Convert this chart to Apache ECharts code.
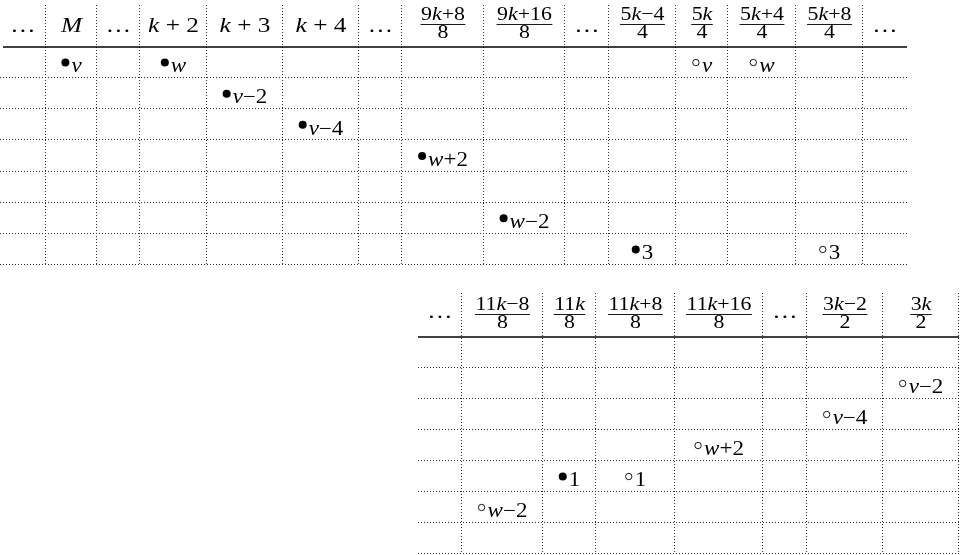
<!DOCTYPE html>
<html>
<head>
<meta charset="utf-8">
<script src="https://cdn.jsdelivr.net/npm/echarts@6/dist/echarts.min.js"></script>
<style>
html, body { margin: 0; padding: 0; background: #fff; }
#chart { width: 970px; height: 555px; }
</style>
</head>
<body>
<div id="chart"></div>
<script>
// column headers, fractions written as "numerator/denominator"
const topHeaders = ['…', 'M', '…', 'k+2', 'k+3', 'k+4', '…', '9k+8/8', '9k+16/8', '…', '5k−4/4', '5k/4', '5k+4/4', '5k+8/4', '…']
const bottomHeaders = ['…', '11k−8/8', '11k/8', '11k+8/8', '11k+16/8', '…', '3k−2/2', '3k/2']
const rowCount = 7

// marks: [column, row, filled, label]
const topMarks = [
  [1, 0, true, 'v'], [3, 0, true, 'w'], [11, 0, false, 'v'], [12, 0, false, 'w'],
  [4, 1, true, 'v−2'],
  [5, 2, true, 'v−4'],
  [7, 3, true, 'w+2'],
  [8, 5, true, 'w−2'],
  [10, 6, true, '3'], [13, 6, false, '3']
]
const bottomMarks = [
  [7, 1, false, 'v−2'],
  [6, 2, false, 'v−4'],
  [4, 3, false, 'w+2'],
  [2, 4, true, '1'], [3, 4, false, '1'],
  [1, 5, false, 'w−2']
]

// layout
const topColWidths = [46, 51, 43, 67, 76, 76, 43, 82, 81, 44, 67, 52, 68, 67, 44]
const bottomColWidths = [44, 81, 53, 79, 88, 44, 76, 76]
const FF = '"Liberation Serif", "Times New Roman", serif'
const SX = 1.15 // text is a bit wider than plain Times
const headSize = 22
const fracSize = 19
const labelSize = 20
const dotted = { stroke: '#333', lineWidth: 1, lineDash: [1, 2] }

const measureCtx = document.createElement('canvas').getContext('2d')
function textWidth (s, size, italic) {
  measureCtx.font = (italic ? 'italic ' : '') + size + 'px ' + FF
  return measureCtx.measureText(s).width
}
function richWidth (s, size) {
  let w = 0
  s.replace(/[A-Za-z]+|[^A-Za-z]+/g, m => {
    w += textWidth(m, size, /[A-Za-z]/.test(m))
    return m
  })
  return w
}
// letters in math italic, the rest upright
function toRich (s) {
  return s.replace(/[A-Za-z]+/g, m => '{i|' + m + '}')
}
function richStyle (size) {
  return { i: { fontStyle: 'italic', fontSize: size, fontFamily: FF, fill: '#000' } }
}
function text (str, x, y, size, align) {
  return {
    type: 'text',
    x: x,
    y: y,
    scaleX: SX,
    style: {
      text: toRich(str),
      rich: richStyle(size),
      fontSize: size,
      fontFamily: FF,
      fill: '#000',
      align: align || 'center',
      verticalAlign: 'middle'
    }
  }
}
function colCenters (widths) {
  let acc = 0
  return widths.map(w => {
    const c = acc + w / 2
    acc += w
    return c
  })
}
function sum (arr) {
  return arr.reduce((a, b) => a + b, 0)
}

// grid lines + header row
function frameSeries (idx, headers, widths, o) {
  const centers = colCenters(widths)
  const total = sum(widths)
  return {
    type: 'custom',
    xAxisIndex: idx,
    yAxisIndex: idx,
    silent: true,
    data: [[0, 0]],
    renderItem: function (params, api) {
      const children = []
      const tl = api.coord([0, 0])
      const br = api.coord([total, rowCount])
      const ruleY = tl[1]
      // dotted rows
      for (let r = 1; r <= rowCount; r++) {
        const y = Math.round(api.coord([0, r])[1]) - 0.5
        children.push({ type: 'line', shape: { x1: tl[0], y1: y, x2: br[0], y2: y }, style: dotted })
      }
      // dotted columns
      let acc = 0
      widths.forEach((w, c) => {
        acc += w
        if (c === widths.length - 1 && !o.rightEdge) return
        const x = Math.round(api.coord([acc, 0])[0]) - 0.5
        children.push({ type: 'line', shape: { x1: x, y1: ruleY - o.headH, x2: x, y2: br[1] }, style: dotted })
      })
      // header rule
      children.push({
        type: 'line',
        shape: { x1: tl[0] + o.ruleInset, y1: ruleY, x2: br[0], y2: ruleY },
        style: { stroke: '#000', lineWidth: 1.3 }
      })
      // headers
      headers.forEach((h, c) => {
        const cx = api.coord([centers[c], 0])[0]
        if (h.indexOf('/') >= 0) {
          const parts = h.split('/')
          const barY = ruleY - o.barOff
          const bw = richWidth(parts[0], fracSize) * SX + 1
          children.push(text(parts[0], cx, barY - 9, fracSize))
          children.push({
            type: 'line',
            shape: { x1: cx - bw / 2, y1: barY + 0.5, x2: cx + bw / 2, y2: barY + 0.5 },
            style: { stroke: '#000', lineWidth: 0.9 }
          })
          children.push(text(parts[1], cx, barY + 9.5, fracSize))
        } else {
          const s = h.replace(/([+−])/g, ' $1 ')
          children.push(text(s, cx, ruleY - o.plainOff, headSize))
        }
      })
      return { type: 'group', children: children }
    }
  }
}

// dots / circles with their subscript labels
function markSeries (idx, marks, widths) {
  const centers = colCenters(widths)
  return {
    type: 'custom',
    xAxisIndex: idx,
    yAxisIndex: idx,
    silent: true,
    data: marks.map(m => [centers[m[0]], m[1] + 0.5]),
    renderItem: function (params, api) {
      const m = marks[params.dataIndex]
      const p = api.coord([api.value(0), api.value(1)])
      const lw = richWidth(m[3], labelSize) * SX
      const dotX = p[0] - (10 + lw) / 2 + 4
      const dotY = p[1]
      return {
        type: 'group',
        children: [
          {
            type: 'circle',
            shape: { cx: dotX, cy: dotY, r: m[2] ? 4 : 3.2 },
            style: m[2] ? { fill: '#000' } : { fill: 'none', stroke: '#000', lineWidth: 0.9 }
          },
          text(m[3], dotX + 6, dotY + 4.5, labelSize, 'left')
        ]
      }
    }
  }
}

function hiddenAxis (idx, max, inverse) {
  return {
    type: 'value',
    gridIndex: idx,
    min: 0,
    max: max,
    inverse: !!inverse,
    show: false,
    splitLine: { show: false }
  }
}

const chart = echarts.init(document.getElementById('chart'), null, { renderer: 'canvas' })
chart.setOption({
  animation: false,
  backgroundColor: '#fff',
  grid: [
    { left: 0, top: 47, width: sum(topColWidths), height: 218 },
    { left: 418, top: 337, width: sum(bottomColWidths), height: 217 }
  ],
  xAxis: [hiddenAxis(0, sum(topColWidths)), hiddenAxis(1, sum(bottomColWidths))],
  yAxis: [hiddenAxis(0, rowCount, true), hiddenAxis(1, rowCount, true)],
  series: [
    frameSeries(0, topHeaders, topColWidths, { headH: 42, barOff: 23, plainOff: 20.5, ruleInset: 3, rightEdge: false }),
    frameSeries(1, bottomHeaders, bottomColWidths, { headH: 44, barOff: 23, plainOff: 25, ruleInset: 0, rightEdge: true }),
    markSeries(0, topMarks, topColWidths),
    markSeries(1, bottomMarks, bottomColWidths)
  ]
})
window.addEventListener('resize', () => chart.resize())
</script>
</body>
</html>
